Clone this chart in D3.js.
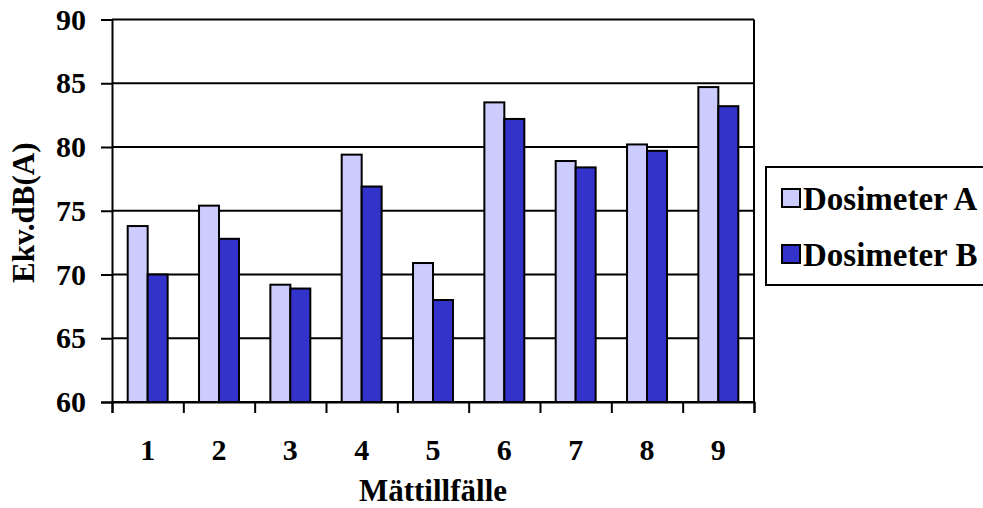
<!DOCTYPE html>
<html>
<head>
<meta charset="utf-8">
<script src="https://cdn.jsdelivr.net/npm/d3@7"></script>
<style>
  body { margin: 0; background: #fff; }
  svg { display: block; }
  text { font-family: "Liberation Serif", "Times New Roman", serif; font-weight: bold; fill: #000; }
</style>
</head>
<body>
<div id="chart"></div>
<script>
// data
const categories = ["1", "2", "3", "4", "5", "6", "7", "8", "9"];
const seriesNames = ["Dosimeter A", "Dosimeter B"];
const dosimeterA = [73.8, 75.4, 69.2, 79.4, 70.9, 83.5, 78.9, 80.2, 84.7];
const dosimeterB = [70.0, 72.8, 68.9, 76.9, 68.0, 82.2, 78.4, 79.7, 83.2];
const yTicks = [60, 65, 70, 75, 80, 85, 90];
const colors = ["#CCCCFF", "#3333CC"];

const width = 983, height = 508;
const plot = { left: 112, right: 754, top: 19.5, bottom: 402 };
const serif = '"Liberation Serif", "Times New Roman", serif';

const svg = d3.select("#chart").append("svg")
    .attr("width", width)
    .attr("height", height);

const x = d3.scaleBand()
    .domain(categories)
    .range([plot.left, plot.right])
    .padding(0);

// two bars sit in the middle 56% of each category slot
const xInner = d3.scaleBand()
    .domain(seriesNames)
    .range([x.bandwidth() * 0.22, x.bandwidth() * 0.78])
    .padding(0);

const y = d3.scaleLinear()
    .domain([60, 90])
    .range([plot.bottom, plot.top]);

// gridlines
svg.append("g")
    .selectAll("line")
    .data(yTicks)
    .enter().append("line")
    .attr("x1", plot.left)
    .attr("x2", plot.right)
    .attr("y1", d => y(d))
    .attr("y2", d => y(d))
    .attr("stroke", "#000")
    .attr("stroke-width", 2);

// right border
svg.append("line")
    .attr("x1", plot.right).attr("x2", plot.right)
    .attr("y1", plot.top).attr("y2", plot.bottom)
    .attr("stroke", "#000").attr("stroke-width", 2);

// bars
const rows = categories.map((c, i) => ({ cat: c, values: [dosimeterA[i], dosimeterB[i]] }));

const groups = svg.append("g")
    .selectAll("g")
    .data(rows)
    .enter().append("g")
    .attr("transform", d => `translate(${x(d.cat)},0)`);

groups.selectAll("rect")
    .data(d => d.values.map((v, j) => ({ name: seriesNames[j], value: v, j: j })))
    .enter().append("rect")
    .attr("x", d => xInner(d.name))
    .attr("width", xInner.bandwidth())
    .attr("y", d => y(d.value))
    .attr("height", d => y(60) - y(d.value))
    .attr("fill", d => colors[d.j])
    .attr("stroke", "#000")
    .attr("stroke-width", 2);

// y axis
const yAxis = svg.append("g")
    .attr("transform", `translate(${plot.left},0)`)
    .call(d3.axisLeft(y).tickValues(yTicks).tickSize(11).tickPadding(15));
yAxis.select(".domain").attr("stroke", "#000").attr("stroke-width", 2);
yAxis.selectAll(".tick line").attr("stroke", "#000").attr("stroke-width", 2);
yAxis.selectAll("text")
    .style("font-family", serif)
    .style("font-weight", "bold")
    .style("font-size", "30px")
    .attr("fill", "#000");

// x axis: ticks on the slot edges
const xEdge = d3.scaleLinear().domain([0, categories.length]).range([plot.left, plot.right]);
const xTickAxis = svg.append("g")
    .attr("transform", `translate(0,${plot.bottom})`)
    .call(d3.axisBottom(xEdge).tickValues(d3.range(0, categories.length + 1)).tickSize(11).tickFormat(""));
xTickAxis.select(".domain").attr("stroke", "#000").attr("stroke-width", 2);
xTickAxis.selectAll(".tick line").attr("stroke", "#000").attr("stroke-width", 2);

// x axis: category labels
const xLabelAxis = svg.append("g")
    .attr("transform", `translate(0,${plot.bottom})`)
    .call(d3.axisBottom(x).tickSize(0).tickPadding(37));
xLabelAxis.select(".domain").remove();
xLabelAxis.selectAll("text")
    .style("font-family", serif)
    .style("font-weight", "bold")
    .style("font-size", "30px")
    .attr("fill", "#000");

// axis titles
svg.append("text")
    .attr("x", (plot.left + plot.right) / 2)
    .attr("y", 501)
    .attr("text-anchor", "middle")
    .attr("font-size", "31px")
    .text("Mättillfälle");

svg.append("text")
    .attr("transform", `translate(34,${(plot.top + plot.bottom) / 2 + 2}) rotate(-90)`)
    .attr("text-anchor", "middle")
    .attr("font-size", "31px")
    .text("Ekv.dB(A)");

// legend
const legend = svg.append("g").attr("transform", "translate(766,167)");
legend.append("rect")
    .attr("width", 240)
    .attr("height", 118)
    .attr("fill", "#fff")
    .attr("stroke", "#000")
    .attr("stroke-width", 2);

const items = legend.selectAll("g.item")
    .data(seriesNames)
    .enter().append("g")
    .attr("class", "item")
    .attr("transform", (d, i) => `translate(0,${31 + i * 56})`);

items.append("rect")
    .attr("x", 16)
    .attr("y", -9)
    .attr("width", 18)
    .attr("height", 18)
    .attr("fill", (d, i) => colors[i])
    .attr("stroke", "#000")
    .attr("stroke-width", 2);

items.append("text")
    .attr("x", 37)
    .attr("y", 0)
    .attr("dy", "0.35em")
    .attr("font-size", "33px")
    .text(d => d);
</script>
</body>
</html>
